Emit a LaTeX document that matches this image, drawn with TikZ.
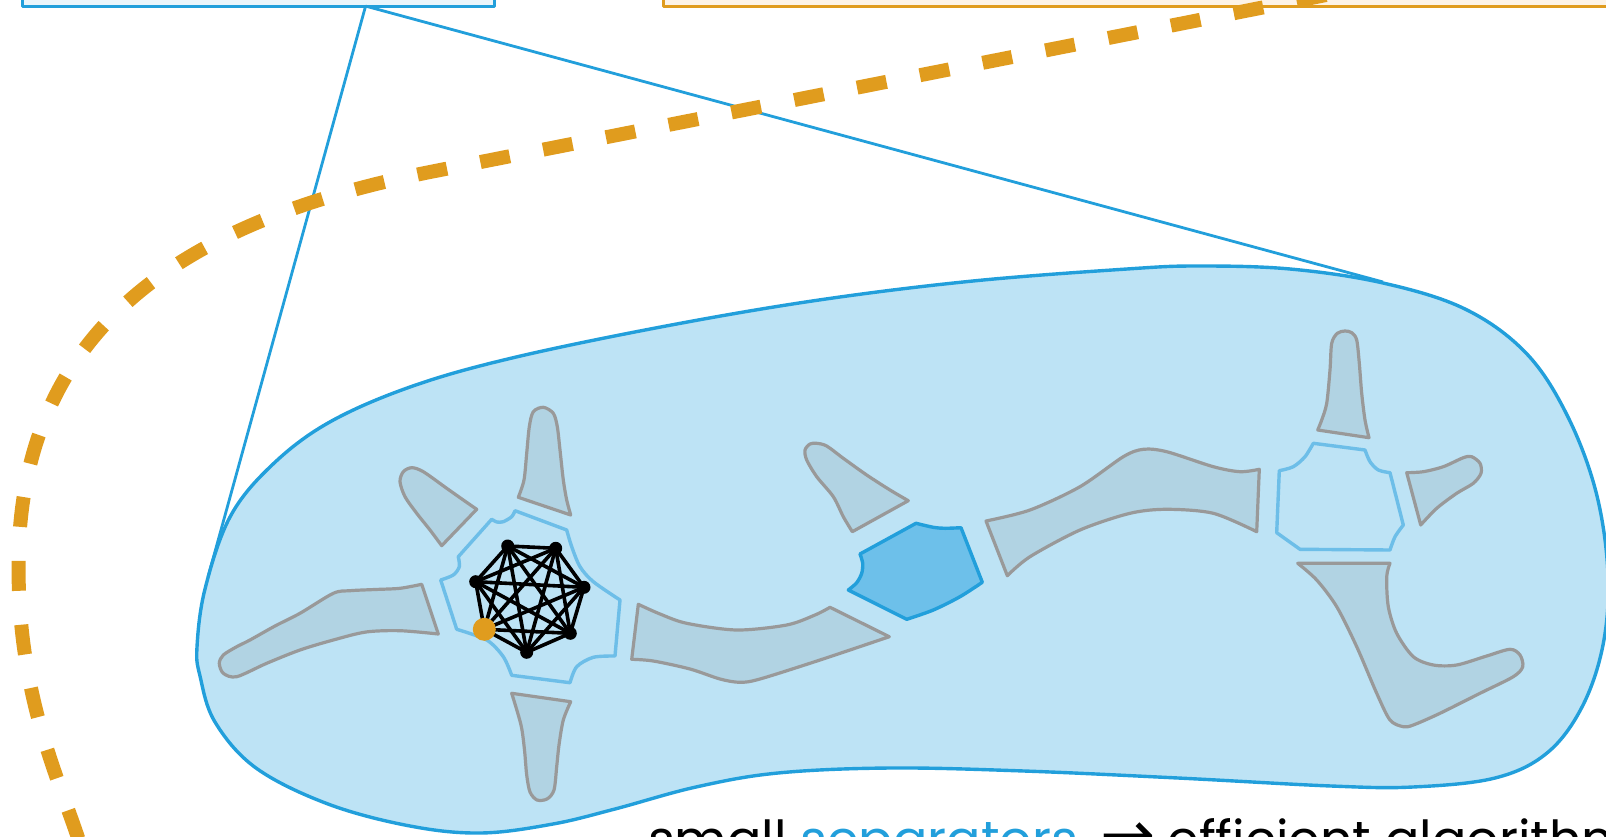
\documentclass[tikz,border=0pt]{standalone}
\usepackage{fontspec}
\newfontfamily\txtfont{Poppins}
\newfontfamily\symfont{DejaVu Sans}
\definecolor{cblue}{HTML}{229FDB}
\definecolor{cblob}{HTML}{BDE3F5}
\definecolor{cgreyfill}{HTML}{B1D3E3}
\definecolor{cgrey}{HTML}{999999}
\definecolor{csep}{HTML}{6DBEE8}
\definecolor{csepfill}{HTML}{6DC0EA}
\definecolor{corange}{HTML}{E09C1E}
\definecolor{cboxblue}{HTML}{EAF5FB}
\definecolor{cboxorange}{HTML}{FDF3E6}
\begin{document}
\begin{tikzpicture}[x=1pt,y=-1pt,line join=round,
  greyshape/.style={draw=cgrey,fill=cgreyfill,line width=3.2pt},
  sepline/.style={draw=csep,line width=3.4pt},
  sepfilled/.style={draw=cblue,fill=csepfill,line width=3.4pt},
  blobstyle/.style={draw=cblue,fill=cblob,line width=3.4pt},
  zoomline/.style={draw=cblue,line width=2.8pt},
  orangedash/.style={draw=corange,line width=14pt,dash pattern=on 30pt off 34pt},
  cedge/.style={draw=black,line width=3.6pt},
  blackdot/.style={circle,fill=black,inner sep=0pt,minimum size=13pt},
  orangedot/.style={circle,fill=corange,inner sep=0pt,minimum size=23pt},
  bluebox/.style={draw=cblue,fill=cboxblue,line width=3pt},
  orangebox/.style={draw=corange,fill=cboxorange,line width=3pt}]
\useasboundingbox (0,0) rectangle (1606,837);

% top boxes
\path[bluebox] (22.5,-40) rectangle (494.7,6.1);
\path[orangebox] (663,-40) rectangle (1640,6.1);
\coordinate (apex) at (365.6,6.1);
\coordinate (blobleft) at (208,577);
\coordinate (blobright) at (1383,282);

% zoom lines
\draw[zoomline] (apex) -- (blobleft);
\draw[zoomline] (apex) -- (blobright);

% orange dashed curve
\coordinate (ostart) at (1326,-5);
\coordinate (omid) at (430,172);
\coordinate (oleft) at (18.5,566);
\coordinate (oend) at (82,850);
\draw[orangedash] (ostart) -- (omid) .. controls (204,217) and (18.5,315) .. (oleft) .. controls (18.5,700) and (60,780) .. (oend);

% blob
\path[blobstyle] plot[smooth cycle,tension=0.6] coordinates {
 (197,647) (205,589) (230,517) (271,466) (328,423) (410,387) (512,358)
 (666,326) (819,300) (973,281) (1127,269) (1198,266) (1290,269) (1383,283)
 (1465,309) (1526,353) (1567,415) (1596,492) (1608,574) (1603,645)
 (1582,707) (1547,753) (1495,778) (1413,787) (1331,786) (1178,778)
 (1024,771) (891,768) (778,773) (696,787) (615,809) (553,824) (481,833)
 (410,826) (328,804) (256,768) (215,722) (200,676)};

% grey shapes
\path[greyshape] (476.7,509.3) -- (441.7,545.7) -- plot[smooth] coordinates {(441.7,545.7) (430,530) (416.7,513.3) (405,496.7) (400,481.7) (403.3,471.7) (411.7,467.7) (423.3,471.7) (446.7,488.3) (463.3,500) (476.7,509.3)} -- cycle;
\path[greyshape] (518.3,497.3) -- (570.7,515) -- plot[smooth] coordinates {(570.7,515) (566.7,500) (563.3,480) (560,450) (557.3,426.7) (553.3,413.3) (543.3,407.3) (533.3,411.7) (529.3,426.7) (526.7,453.3) (524,480) (518.3,497.3)} -- cycle;
\path[greyshape] (421.7,584.3) -- (438.3,634) -- plot[smooth] coordinates {(438.3,634) (400,630.7) (366,632) (333.3,640) (300,650) (266.7,663.3) (236.7,676.7) (223.3,673.3) (219.3,663.3) (223.3,655) (236.7,646.7) (250,640) (275,626) (300,613.3) (333.3,593.3) (350,590.7) (375,589.5) (400,588.3) (421.7,584.3)} -- cycle;
\path[greyshape] (511.7,693.3) -- (570.7,701.7) -- plot[smooth] coordinates {(570.7,701.7) (563.3,720) (559,745) (556.7,766.7) (554,790) (547,799) (537,800) (530,792) (526.7,775) (524.5,750) (521,725) (511.7,693.3)} -- cycle;
\path[greyshape] (638.3,604.3) -- plot[smooth] coordinates {(638.3,604.3) (660,614) (686.7,623.3) (736.7,630) (786.7,625) (815,615) (830,607.3)} -- (889.3,636.7) -- plot[smooth] coordinates {(889.3,636.7) (820,660) (760,679) (740,682.3) (720,679) (690,669) (653.3,661) (631.7,659.3)} -- cycle;
\path[greyshape] (908.3,500.7) -- (852.3,531.7) -- plot[smooth] coordinates {(852.3,531.7) (843.3,516.7) (833.3,496.7) (816.7,476.7) (806.7,460) (805,450) (810,444) (816.7,443.3) (826.7,446) (843.3,458.3) (866.7,475) (890,490) (908.3,500.7)} -- cycle;
\path[greyshape] (986,521) -- plot[smooth] coordinates {(986,521) (1030,510) (1080,486.7) (1123.3,456.7) (1143.3,449.3) (1166.7,451.7) (1213.3,466.7) (1240,471.7) (1259.3,469.3)} -- (1256.7,531.7) -- plot[smooth] coordinates {(1256.7,531.7) (1213.3,513.3) (1166.7,509.3) (1130,513.3) (1080,530) (1030,556.7) (1007.3,575.7)} -- cycle;
\path[greyshape] (1317.7,430) -- (1369,437.7) -- plot[smooth] coordinates {(1369,437.7) (1365,420) (1361.7,393.3) (1359.3,363.3) (1356.7,340) (1351.7,332.7) (1345,331) (1337.3,333.3) (1331.7,343.3) (1330,370) (1326.7,403.3) (1321.7,420) (1317.7,430)} -- cycle;
\path[greyshape] (1406.7,472.7) -- plot[smooth] coordinates {(1406.7,472.7) (1423.3,471.7) (1443.3,466.7) (1463.3,457.7) (1471.7,456.7) (1480,463.3) (1481,473.3) (1473.3,483.3) (1456.7,493.3) (1436.7,508.3) (1420.7,525)} -- cycle;
\path[greyshape] (1297.7,563.3) -- (1390,563.3) -- plot[smooth] coordinates {(1390,563.3) (1386.7,576.7) (1388.3,606.7) (1396.7,633.3) (1413.3,656.7) (1433.3,665) (1456.7,665) (1486.7,656) (1510,649.3) (1520,655) (1522.7,666.7) (1513.3,676.7) (1480,693.3) (1440,713.3) (1413.3,725) (1403.3,726.7) (1390,720) (1376.7,693.3) (1356.7,646.7) (1336.7,606.7) (1316.7,580) (1297.7,563.3)} -- cycle;

% separators
\path[sepline] (440.7,580) -- plot[smooth] coordinates {(440.7,580) (453.3,575) (459.3,566.7) (458.3,556.7)} -- (491.7,519.3) -- plot[smooth] coordinates {(491.7,519.3) (497,522) (503.3,521.7) (511.7,516.7) (515,510.7)} -- (566.7,530) -- plot[smooth] coordinates {(566.7,530) (571.7,546.7) (580,566.7) (593.3,581.7) (620,600)} -- (615,656) -- plot[smooth] coordinates {(615,656) (593.3,657.3) (576.7,666.7) (570,682.7)} -- (511.7,675.3) -- plot[smooth] coordinates {(511.7,675.3) (503.3,656.7) (486.7,640) (456.7,629.3)} -- cycle;
\path[sepfilled] (860,554) -- plot[smooth] coordinates {(916,523.3) (933.3,527.3) (945,528.3) (961,527.7)} -- (982.3,582.3) -- plot[smooth] coordinates {(982.3,582.3) (960,596.7) (933.3,610) (906.7,619.3)} -- (848.3,590) -- plot[smooth] coordinates {(848.3,590) (856.7,582.7) (861.7,573.3) (862.7,563.3) (860,554)} -- cycle;
\path[sepline] (1313.3,443.3) -- plot[smooth] coordinates {(1365,450) (1370,461.7) (1378.3,470) (1390,472.7)} -- plot[smooth] coordinates {(1403.3,525) (1395,536.7) (1390,550)} -- (1300,549.3) -- (1276.7,532.7) -- plot[smooth] coordinates {(1279.3,470.7) (1293.3,466.7) (1305,456.7) (1313.3,443.3)} -- cycle;

% clique
\coordinate (k1) at (507.7,546);
\coordinate (k2) at (555.7,548.3);
\coordinate (k3) at (584,587.3);
\coordinate (k4) at (570.3,633.3);
\coordinate (k5) at (526.7,652.3);
\coordinate (k6) at (484.3,629.3);
\coordinate (k7) at (475.7,581.7);
\foreach \i in {1,...,6} {
  \pgfmathtruncatemacro\nxt{\i+1}
  \foreach \j in {\nxt,...,7} {\draw[cedge] (k\i) -- (k\j);}
}
\foreach \i in {1,2,3,4,5,7} {\node[blackdot] (d\i) at (k\i) {};}
\node[orangedot] (d6) at (k6) {};

% caption
\node[anchor=base west,inner sep=0pt,font=\txtfont\fontsize{51}{56}\selectfont] (caption) at (648,857) {small \textcolor{cblue}{separators}\hspace{22pt}{\symfont\fontsize{66}{68}\selectfont→}\hspace{12pt}efficient algorithm};
\end{tikzpicture}
\end{document}
